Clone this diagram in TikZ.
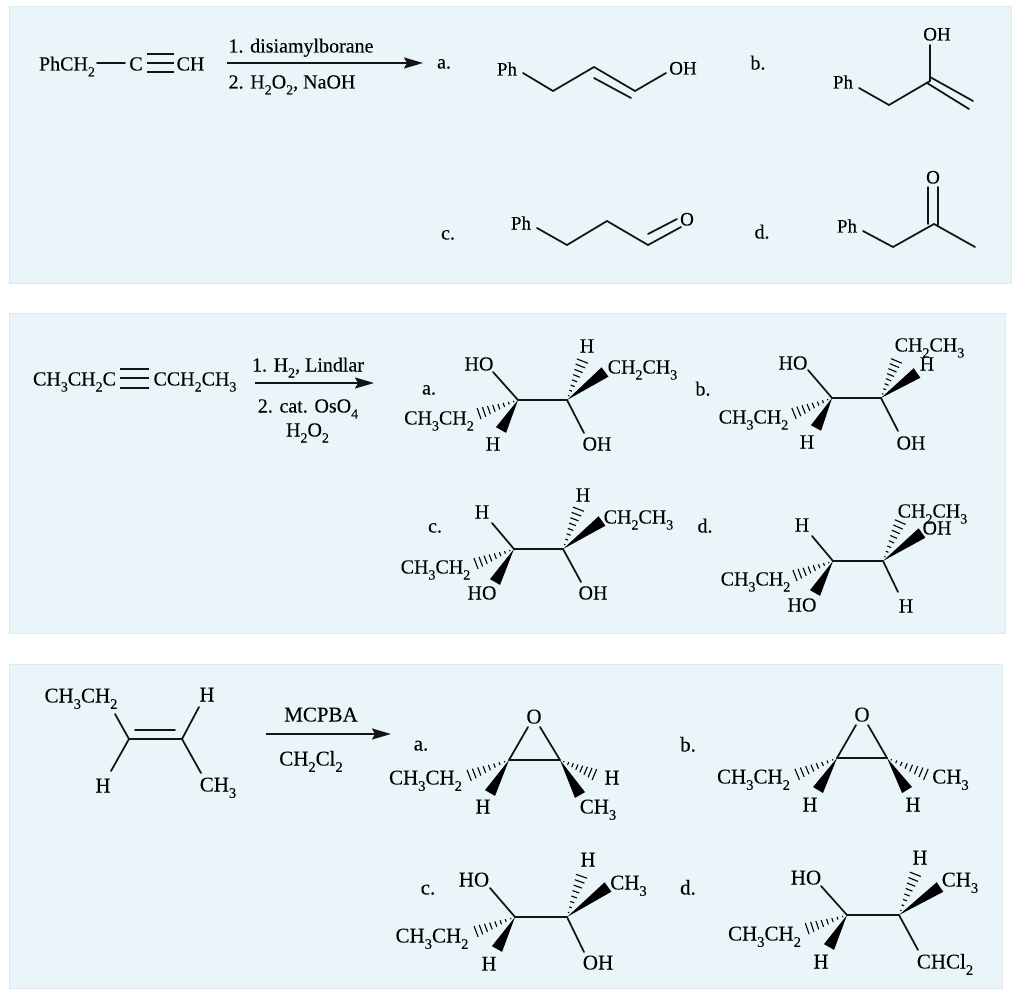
\documentclass[tikz,border=0pt]{standalone}
\usepackage{fontspec}
\setmainfont[FakeBold=0.12]{Liberation Serif}
\usetikzlibrary{calc,arrows.meta}
\definecolor{panelfill}{HTML}{E9F5F8}
\definecolor{panelline}{HTML}{DCE9EC}
\newcommand{\labsz}{20}
\newcommand{\subsz}{14}
\newcommand{\dn}[1]{\raisebox{-0.3em}{\fontsize{\subsz}{14}\selectfont #1}}
\newcommand{\lab}[4]{\node[lab] (#1) at (#2,#3) {#4};}
\newcommand{\pt}[3]{\coordinate (#1) at (#2,#3);}
\newcommand{\bondto}[4]{\draw[bond] (#1) -- ($(#2)+(#3,#4)$);}
\newcommand{\wedgeb}[2]{\fill[black] (#1) -- ($(#2)!5.8pt!90:(#1)$) -- ($(#2)!5.8pt!-90:(#1)$) -- cycle;}
\newcommand{\hashb}[2]{\foreach \hh in {0.1,0.215,...,1.0}{%
  \pgfmathsetmacro\ww{\hh*6.5}%
  \coordinate (hp) at ($(#1)!\hh!(#2)$);%
  \draw[hashline] ($(hp)!\ww pt!90:(#2)$) -- ($(hp)!\ww pt!-90:(#2)$);}}
\tikzset{
  lab/.style={inner sep=0pt,text height=19pt,text depth=6pt,font=\fontsize{\labsz}{22}\selectfont,text=black},
  bond/.style={line width=1.75pt,line cap=round,line join=round,black!92},
  hashline/.style={line width=1.1pt,black},
  rxn/.style={line width=1.8pt,black!92,-{Stealth[length=19pt,width=11pt,inset=3pt]}},
  panel/.style={fill=panelfill,draw=panelline,line width=0.8pt},
}
\begin{document}
\begin{tikzpicture}[x=1pt,y=-1pt]
\path[fill=white,use as bounding box] (0,0) rectangle (1024,1000);
\draw[panel] (9,6) rectangle (1011,283);
\draw[panel] (9,313) rectangle (1005,633);
\draw[panel] (9,664) rectangle (1002,988);

%% ---------- panel 1 ----------
\lab{aPh}{67}{64}{PhCH\dn{2}}
\lab{aC}{136}{64}{C}
\lab{aCH}{190.5}{64}{CH}
\draw[bond] ($(aPh)+(30,-1)$) -- ($(aC)+(-11,-1)$);
\draw[bond,line cap=butt] ($(aC)+(11,-10)$) -- ($(aCH)+(-16.5,-10)$);
\draw[bond,line cap=butt] ($(aC)+(11,-1)$) -- ($(aCH)+(-16.5,-1)$);
\draw[bond,line cap=butt] ($(aC)+(11,8)$) -- ($(aCH)+(-16.5,8)$);
\pt{ar1s}{227}{63}\pt{ar1e}{423}{63}
\draw[rxn] (ar1s) -- (ar1e);
\lab{r1t}{301}{46}{1. disiamylborane}
\lab{r1b}{292}{82}{2. H\dn{2}O\dn{2}, NaOH}
\lab{L1a}{444}{62}{a.}
\lab{L1b}{758}{63}{b.}
\lab{L1c}{448}{233}{c.}
\lab{L1d}{762}{232}{d.}
% a
\lab{Aph}{507}{69}{\fontsize{19}{21}\selectfont Ph}
\lab{Aoh}{683}{68}{\fontsize{19}{21}\selectfont OH}
\pt{A1}{553}{91}\pt{A2}{594}{67}\pt{A3}{635}{91}\pt{A4}{594}{78}\pt{A5}{631}{98}
\bondto{A1}{Aph}{16}{4}
\draw[bond] (A1) -- (A2) -- (A3);
\draw[bond] (A4) -- (A5);
\bondto{A3}{Aoh}{-17}{5}
% b
\lab{Bph}{843}{82}{\fontsize{19}{21}\selectfont Ph}
\lab{Boh}{937}{34}{\fontsize{19}{21}\selectfont OH}
\pt{B1}{889}{105}\pt{B2}{930}{81}\pt{B3}{930}{77}\pt{B4}{973}{101}\pt{B5}{927}{83}\pt{B6}{969}{109}
\bondto{B1}{Bph}{16}{6}
\draw[bond] (B1) -- (B2);
\bondto{B2}{Boh}{-7}{11}
\draw[bond] (B3) -- (B4);
\draw[bond] (B5) -- (B6);
% c
\lab{Cph}{521}{223}{\fontsize{19}{21}\selectfont Ph}
\lab{Co}{687}{219}{\fontsize{19}{21}\selectfont O}
\pt{C1}{567}{245}\pt{C2}{607}{221}\pt{C3}{648}{245}\pt{C4}{648}{234}
\bondto{C1}{Cph}{16}{5}
\draw[bond] (C1) -- (C2) -- (C3);
\bondto{C4}{Co}{-10}{0}
\bondto{C3}{Co}{-6}{8}
% d
\lab{Dph}{847}{226}{\fontsize{19}{21}\selectfont Ph}
\lab{Do}{933}{177}{\fontsize{19}{21}\selectfont O}
\pt{D1}{893}{247}\pt{D2}{934}{224}\pt{D3}{975}{247}\pt{D4}{928}{224}\pt{D5}{938}{225}
\bondto{D1}{Dph}{16}{5}
\draw[bond] (D1) -- (D2) -- (D3);
\bondto{D4}{Do}{-5}{10}
\bondto{D5}{Do}{5}{10}

%% ---------- panel 2 ----------
\lab{eL}{74.5}{379}{CH\dn{3}CH\dn{2}C}
\lab{eR}{195}{379}{CCH\dn{2}CH\dn{3}}
\draw[bond,line cap=butt] ($(eL)+(45.5,-10)$) -- ($(eR)+(-46,-10)$);
\draw[bond,line cap=butt] ($(eL)+(45.5,-1)$) -- ($(eR)+(-46,-1)$);
\draw[bond,line cap=butt] ($(eL)+(45.5,9)$) -- ($(eR)+(-46,9)$);
\pt{ar2s}{255}{383}\pt{ar2e}{374}{383}
\draw[rxn] (ar2s) -- (ar2e);
\lab{r2a}{308}{365}{1. H\dn{2}, Lindlar}
\lab{r2b}{308}{406}{2. cat. OsO\dn{4}}
\lab{r2c}{307.5}{430}{H\dn{2}O\dn{2}}
% a
\lab{L2a}{429}{388}{a.}
\pt{E1}{518}{400}\pt{E2}{567}{400}\pt{E3}{475}{415}\pt{E4}{501}{430}\pt{E5}{584}{357}\pt{E6}{605}{372}
\lab{Eho}{479}{364}{HO}
\lab{Eet}{439}{418}{CH\dn{3}CH\dn{2}}
\lab{Eh}{493}{444}{H}
\lab{Ehh}{587}{346}{H}
\lab{Ee2}{642.5}{367}{CH\dn{2}CH\dn{3}}
\lab{Eoh}{597}{444}{OH}
\draw[bond] (E1) -- (E2);
\bondto{E1}{Eho}{14}{8}
\bondto{E2}{Eoh}{-13}{-11}
\hashb{E1}{E3}\wedgeb{E1}{E4}\hashb{E2}{E5}\wedgeb{E2}{E6}
% b
\lab{L2b}{703}{389}{b.}
\pt{F1}{832}{398}\pt{F2}{881}{398}\pt{F3}{790}{415}\pt{F4}{816}{428}\pt{F5}{898}{357}\pt{F6}{917}{373}
\lab{Fho}{793}{363}{HO}
\lab{Fet}{753.5}{417}{CH\dn{3}CH\dn{2}}
\lab{Fh}{807}{442}{H}
\lab{Fe2}{929.5}{345}{CH\dn{2}CH\dn{3}}
\lab{Fhh}{927}{364}{H}
\lab{Foh}{911}{443}{OH}
\draw[bond] (F1) -- (F2);
\bondto{F1}{Fho}{15}{7}
\bondto{F2}{Foh}{-13}{-12}
\hashb{F1}{F3}\wedgeb{F1}{F4}\hashb{F2}{F5}\wedgeb{F2}{F6}
% c
\lab{L2c}{435}{526}{c.}
\pt{G1}{514}{549}\pt{G2}{563}{549}\pt{G3}{472}{565}\pt{G4}{495}{582}\pt{G5}{580}{505}\pt{G6}{602}{521}
\lab{Gh}{482}{512}{H}
\lab{Get}{435.5}{567}{CH\dn{3}CH\dn{2}}
\lab{Gho}{482}{593}{HO}
\lab{Ghh}{583}{495}{H}
\lab{Ge2}{638.5}{517}{CH\dn{2}CH\dn{3}}
\lab{Goh}{593}{593}{OH}
\draw[bond] (G1) -- (G2);
\bondto{G1}{Gh}{10}{11}
\bondto{G2}{Goh}{-12}{-11}
\hashb{G1}{G3}\wedgeb{G1}{G4}\hashb{G2}{G5}\wedgeb{G2}{G6}
% d
\lab{L2d}{705}{526}{d.}
\pt{H1}{833}{561}\pt{H2}{883}{561}\pt{H3}{791}{577}\pt{H4}{815}{593}\pt{H5}{902}{518}\pt{H6}{922}{533}
\lab{Hh}{802}{525}{H}
\lab{Het}{755.5}{579}{CH\dn{3}CH\dn{2}}
\lab{Hho}{802}{605}{HO}
\lab{He2}{932.5}{511}{CH\dn{2}CH\dn{3}}
\lab{Hoh}{937}{528}{OH}
\lab{Hhh}{906}{606}{H}
\draw[bond] (H1) -- (H2);
\bondto{H1}{Hh}{10}{11}
\bondto{H2}{Hhh}{-8}{-14}
\hashb{H1}{H3}\wedgeb{H1}{H4}\hashb{H2}{H5}\wedgeb{H2}{H6}

%% ---------- panel 3 ----------
\renewcommand{\labsz}{21}
\renewcommand{\subsz}{14.5}
\pt{J1}{129}{739}\pt{J2}{182}{739}\pt{J3}{135}{730}\pt{J4}{175}{730}
\lab{Jet}{81}{696}{CH\dn{3}CH\dn{2}}
\lab{Jh}{207}{695}{H}
\lab{Jhb}{103}{786}{H}
\lab{Jme}{218}{785}{CH\dn{3}}
\draw[bond] (J1) -- (J2);
\draw[bond] (J3) -- (J4);
\bondto{J1}{Jet}{34}{18}
\bondto{J2}{Jh}{-8}{12}
\bondto{J1}{Jhb}{8}{-15}
\bondto{J2}{Jme}{-17}{-12}
\pt{ar3s}{266}{734}\pt{ar3e}{391}{734}
\draw[rxn] (ar3s) -- (ar3e);
\lab{r3a}{321}{715}{MCPBA}
\lab{r3b}{311}{759}{CH\dn{2}Cl\dn{2}}
% a
\lab{L3a}{421}{744}{a.}
\pt{K1}{509}{760}\pt{K2}{560}{760}\pt{K3}{465}{777}\pt{K4}{490}{793}\pt{K5}{598}{776}\pt{K6}{580}{795}
\lab{Ko}{534}{717}{O}
\lab{Ket}{425.5}{778}{CH\dn{3}CH\dn{2}}
\lab{Kh}{483}{807}{H}
\lab{Khr}{612}{778}{H}
\lab{Kme}{598}{807}{CH\dn{3}}
\draw[bond] (K1) -- (K2);
\bondto{K1}{Ko}{-6}{10}
\bondto{K2}{Ko}{6}{10}
\hashb{K1}{K3}\wedgeb{K1}{K4}\hashb{K2}{K5}\wedgeb{K2}{K6}
% b
\lab{L3b}{688}{745}{b.}
\pt{M1}{837}{758}\pt{M2}{887}{758}\pt{M3}{793}{776}\pt{M4}{818}{790}\pt{M5}{930}{776}\pt{M6}{907}{790}
\lab{Mo}{862}{715}{O}
\lab{Met}{753.5}{777}{CH\dn{3}CH\dn{2}}
\lab{Mh}{810}{805}{H}
\lab{Mme}{950.5}{777}{CH\dn{3}}
\lab{Mhr}{913}{805}{H}
\draw[bond] (M1) -- (M2);
\bondto{M1}{Mo}{-6}{10}
\bondto{M2}{Mo}{6}{10}
\hashb{M1}{M3}\wedgeb{M1}{M4}\hashb{M2}{M5}\wedgeb{M2}{M6}
% c
\lab{L3c}{428}{888}{c.}
\pt{N1}{515}{917}\pt{N2}{567}{917}\pt{N3}{472}{933}\pt{N4}{497}{949}\pt{N5}{583}{872}\pt{N6}{608}{887}
\lab{Nho}{474}{880}{HO}
\lab{Net}{432}{936}{CH\dn{3}CH\dn{2}}
\lab{Nh}{489}{964}{H}
\lab{Nhh}{588}{860}{H}
\lab{Nme}{628.5}{883}{CH\dn{3}}
\lab{Noh}{598}{963}{OH}
\draw[bond] (N1) -- (N2);
\bondto{N1}{Nho}{16}{8}
\bondto{N2}{Noh}{-14}{-11}
\hashb{N1}{N3}\wedgeb{N1}{N4}\hashb{N2}{N5}\wedgeb{N2}{N6}
% d
\lab{L3d}{688}{888}{d.}
\pt{Q1}{847}{915}\pt{Q2}{899}{915}\pt{Q3}{803}{930}\pt{Q4}{829}{947}\pt{Q5}{917}{870}\pt{Q6}{940}{887}
\lab{Qho}{806}{878}{HO}
\lab{Qet}{764.5}{934}{CH\dn{3}CH\dn{2}}
\lab{Qh}{821}{962}{H}
\lab{Qhh}{920}{858}{H}
\lab{Qme}{960}{880}{CH\dn{3}}
\lab{Qcl}{945}{962}{CHCl\dn{2}}
\draw[bond] (Q1) -- (Q2);
\bondto{Q1}{Qho}{15}{8}
\bondto{Q2}{Qcl}{-27}{-12}
\hashb{Q1}{Q3}\wedgeb{Q1}{Q4}\hashb{Q2}{Q5}\wedgeb{Q2}{Q6}
\end{tikzpicture}
\end{document}
